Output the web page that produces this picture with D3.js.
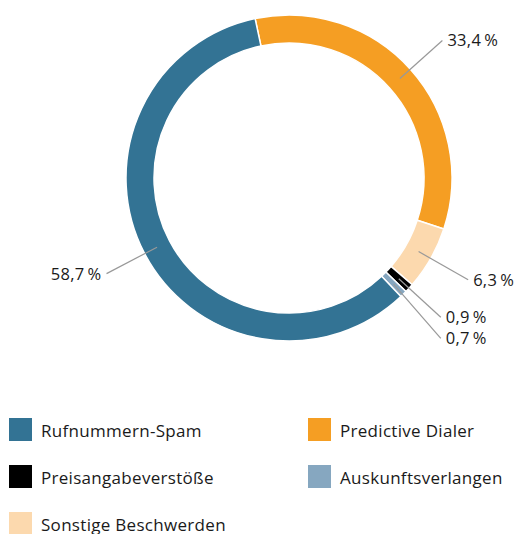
<!DOCTYPE html>
<html><head><meta charset="utf-8">
<script src="https://cdn.jsdelivr.net/npm/d3@7"></script>
<style>body{margin:0;background:#fff}svg{display:block}text{font-family:"Open Sans",sans-serif;fill:#1a1a1a}</style>
</head><body><svg id="c" width="517" height="534"></svg>
<script>
// Data in clockwise drawing order
const categories = ["Predictive Dialer","Sonstige Beschwerden","Preisangabeverstöße","Auskunftsverlangen","Rufnummern-Spam"];
const values = [33.4, 6.3, 0.9, 0.7, 58.7];
const colors = ["#f59e23","#fcd9ae","#000000","#86a7c0","#337394"];
const legendOrder = ["Rufnummern-Spam","Predictive Dialer","Preisangabeverstöße","Auskunftsverlangen","Sonstige Beschwerden"];

const svg = d3.select("#c");
const cx = 289, cy = 178, R = 163, r = 135;
const start = -12 * Math.PI / 180;
const pie = d3.pie().sort(null).value(d => d.v).startAngle(start).endAngle(start + 2*Math.PI);
const data = categories.map((c,i)=>({c, v: values[i], col: colors[i]}));
const arcs = pie(data);
const arc = d3.arc().innerRadius(r).outerRadius(R);
const g = svg.append("g").attr("transform", `translate(${cx},${cy})`);
g.selectAll("path").data(arcs).join("path")
  .attr("d", arc).attr("fill", d=>d.data.col)
  .attr("stroke", "#fff").attr("stroke-width", 1.5);

// labels
const fmt = v => d3.format(".1f")(v).replace(".", ",") + "\u2009%";
const rIn = (R + r)/2, rOut = 206;
const labels = arcs.map(a => {
  const m = (a.startAngle + a.endAngle)/2;
  return {a, m, x0: rIn*Math.sin(m), y0: -rIn*Math.cos(m), x: rOut*Math.sin(m), y: -rOut*Math.cos(m), right: Math.sin(m) > 0};
});
// simple collision avoidance on the right side
const rightL = labels.filter(l=>l.right).sort((p,q)=>p.y-q.y);
for (let i=1;i<rightL.length;i++){
  const p = rightL[i-1], q = rightL[i];
  if (q.y - p.y < 21){ q.y = p.y + 21; q.x = Math.max(q.x, p.x); }
}
labels.forEach(l=>{
  g.append("line").attr("x1", l.x0).attr("y1", l.y0).attr("x2", l.x).attr("y2", l.y)
    .attr("stroke", "#999").attr("stroke-width", 1.2);
  g.append("text").attr("x", l.x + (l.right ? 5 : -5)).attr("y", l.y)
    .attr("dy", "0.36em").attr("text-anchor", l.right ? "start" : "end")
    .attr("font-size", 16.5).attr("letter-spacing", 0.3).text(fmt(l.a.data.v));
});

// legend
const lg = svg.append("g");
const colOf = c => colors[categories.indexOf(c)];
legendOrder.forEach((c,i)=>{
  const col = i % 2, row = Math.floor(i/2);
  const x = 9 + col*299, y = 418 + row*47;
  lg.append("rect").attr("x", x).attr("y", y).attr("width", 23).attr("height", 23).attr("fill", colOf(c));
  lg.append("text").attr("x", x + 32).attr("y", y + 18.5).attr("font-size", 17).attr("letter-spacing", 0.3).text(c);
});
</script></body></html>
